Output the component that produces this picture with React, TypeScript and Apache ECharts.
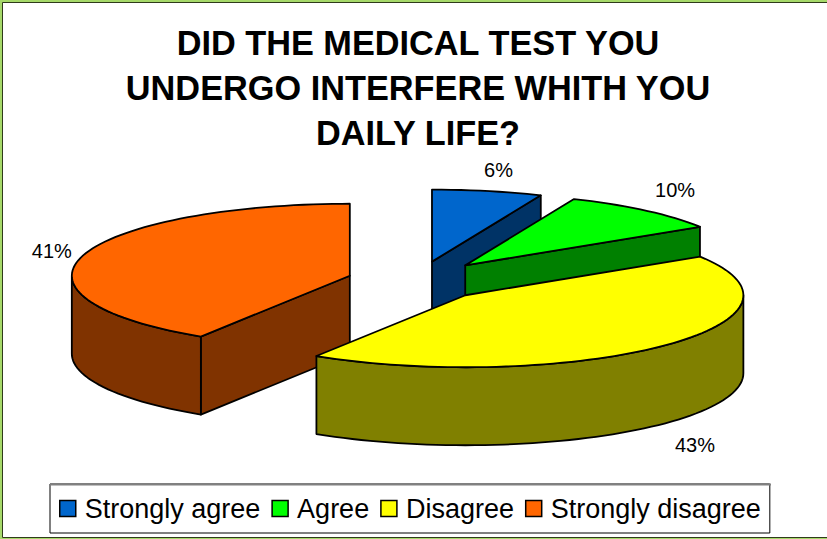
import React, { useEffect, useRef } from "react";
import * as echarts from "echarts";

const TITLE_TEXT = "DID THE MEDICAL TEST YOU\nUNDERGO INTERFERE WHITH YOU\nDAILY LIFE?";
const CATEGORIES = ["Strongly agree", "Agree", "Disagree", "Strongly disagree"];
const PERCENTS = [6.4, 9.6, 43, 41];
const TOP_COLORS = ["#0066CC", "#00FF00", "#FFFF00", "#FF6600"];
const SIDE_COLORS = ["#003366", "#008000", "#808000", "#803300"];

// Paint order: back slices first, the front slice last.
const PAINT_ORDER = [0, 1, 3, 2];
const LABEL_OFFSETS = [[11, -21], [30, -20], [33, 21], [-31, -5]];
const EXPLOSIONS = [70, 73, 67, 71];

const CX = 418;
const CY = 281.5;
const RX = 278;
const RY = 72;
const DEPTH = 78;
const EXPLODE_TILT = 0.29;
const STEP = 2;

const rad = (d: number) => (d * Math.PI) / 180;
const total = PERCENTS.reduce((a, b) => a + b, 0);

function sliceAngles(i: number) {
  const before = PERCENTS.slice(0, i).reduce((a, b) => a + b, 0);
  return [(before / total) * 360, ((before + PERCENTS[i]) / total) * 360];
}

function arcPoints(a0: number, a1: number, ox: number, oy: number) {
  const pts: number[][] = [];
  for (let a = a0; a < a1; a += STEP) {
    pts.push([ox + RX * Math.sin(rad(a)), oy - RY * Math.cos(rad(a))]);
  }
  pts.push([ox + RX * Math.sin(rad(a1)), oy - RY * Math.cos(rad(a1))]);
  return pts;
}

function renderSlice(i: number, value: number) {
  const [a0, a1] = sliceAngles(i);
  const mid = (a0 + a1) / 2;
  const ox = CX + EXPLOSIONS[i] * Math.sin(rad(mid));
  const oy = CY - EXPLOSIONS[i] * EXPLODE_TILT * Math.cos(rad(mid));
  const stroke = { stroke: "#000", lineWidth: 1.8, lineJoin: "round" };
  const side = { fill: SIDE_COLORS[i], ...stroke };
  const children: any[] = [];
  const face = (ang: number) => {
    const x = ox + RX * Math.sin(rad(ang));
    const y = oy - RY * Math.cos(rad(ang));
    children.push({
      type: "polygon",
      shape: { points: [[ox, oy], [x, y], [x, y + DEPTH], [ox, oy + DEPTH]] },
      style: side,
    });
  };
  if (Math.sin(rad(a0)) < -1e-6) face(a0);
  if (Math.sin(rad(a1)) > 1e-6) face(a1);
  const f0 = Math.max(a0, 90);
  const f1 = Math.min(a1, 270);
  if (f1 > f0) {
    const rim = arcPoints(f0, f1, ox, oy);
    const low = rim.map(([x, y]) => [x, y + DEPTH]).reverse();
    children.push({ type: "polygon", shape: { points: [...rim, ...low] }, style: side });
  }
  children.push({
    type: "polygon",
    shape: { points: [[ox, oy], ...arcPoints(a0, a1, ox, oy)] },
    style: { fill: TOP_COLORS[i], ...stroke },
  });
  const front = Math.cos(rad(mid)) < 0 ? DEPTH : 0;
  children.push({
    type: "text",
    style: {
      text: `${Math.round(value)}%`,
      x: ox + RX * Math.sin(rad(mid)) + LABEL_OFFSETS[i][0],
      y: oy - RY * Math.cos(rad(mid)) + front + LABEL_OFFSETS[i][1],
      fill: "#000",
      font: '20px "Liberation Sans"',
      align: "center",
      verticalAlign: "middle",
    },
  });
  return { type: "group", children };
}

export default function App() {
  const ref = useRef<HTMLDivElement>(null);
  useEffect(() => {
    const chart = echarts.init(ref.current!, null, { renderer: "svg" });
    chart.setOption({
      animation: false,
      backgroundColor: "#A6D96A",
      textStyle: { fontFamily: "Liberation Sans" },
      title: {
        text: TITLE_TEXT,
        left: 418,
        top: 20,
        textAlign: "center",
        padding: 0,
        textStyle: {
          fontFamily: "Liberation Sans",
          fontSize: 34.3,
          fontWeight: "bold",
          color: "#000",
          lineHeight: 45,
        },
      },
      legend: {
        data: CATEGORIES,
        left: 50,
        top: 484,
        orient: "horizontal",
        padding: [11, 9, 11, 9],
        itemWidth: 16,
        itemHeight: 16,
        itemGap: 11,
        icon: "rect",
        selectedMode: false,
        borderColor: "#000",
        borderWidth: 1,
        backgroundColor: "#fff",
        itemStyle: { borderColor: "#000", borderWidth: 1.5 },
        textStyle: {
          fontFamily: "Liberation Sans",
          fontSize: 27,
          color: "#000",
          padding: [0, 0, 0, 4],
        },
      },
      graphic: [
        {
          type: "rect",
          z: -1,
          silent: true,
          shape: { x: 2.5, y: 2.5, width: 830, height: 535 },
          style: { fill: "#fff", stroke: "#2f3a1a", lineWidth: 1 },
        },
        {
          type: "line",
          z: 100,
          silent: true,
          shape: { x1: 50, y1: 484.5, x2: 771, y2: 484.5 },
          style: { stroke: "#808080", lineWidth: 2 },
        },
        {
          type: "line",
          z: 100,
          silent: true,
          shape: { x1: 50.5, y1: 484, x2: 50.5, y2: 531 },
          style: { stroke: "#808080", lineWidth: 1 },
        },
      ],
      series: PAINT_ORDER.map((i, order) => ({
        type: "custom",
        name: CATEGORIES[i],
        coordinateSystem: "none",
        z: 2 + order,
        silent: true,
        clip: false,
        itemStyle: { color: TOP_COLORS[i] },
        data: [[PERCENTS[i]]],
        renderItem: (_p: any, api: any) => renderSlice(i, api.value(0)),
      })),
    });
    return () => chart.dispose();
  }, []);
  return (
    <div
      ref={ref}
      style={{ position: "absolute", left: 0, top: 0, width: 827, height: 539 }}
    />
  );
}
